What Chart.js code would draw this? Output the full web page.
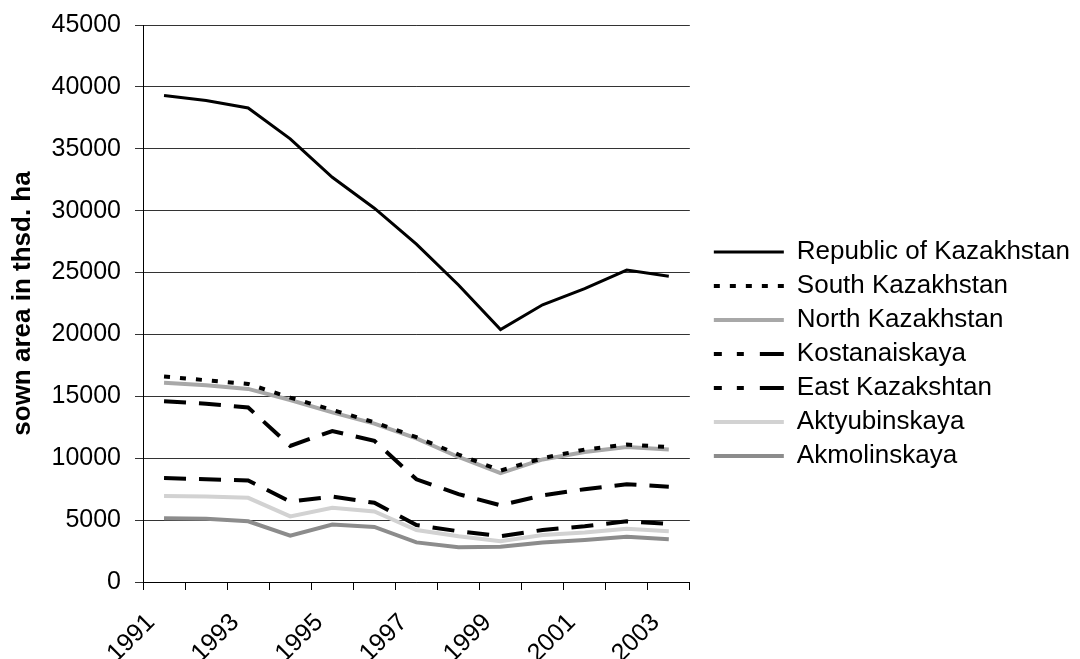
<!DOCTYPE html>
<html>
<head>
<meta charset="utf-8">
<script src="https://cdn.jsdelivr.net/npm/chart.js@4.4.1/dist/chart.umd.min.js"></script>
<style>
    html, body { margin: 0; padding: 0; background: #fff; }
</style>
</head>
<body>
<canvas id="sownChart" width="1080" height="659"></canvas>
<script>
const years = ['1991', '1992', '1993', '1994', '1995', '1996', '1997', '1998', '1999', '2000', '2001', '2002', '2003'];
const republic = [39300, 38900, 38300, 35800, 32700, 30200, 27300, 24000, 20400, 22400, 23700, 25200, 24700];
const southKaz = [16600, 16300, 16000, 14900, 13900, 12900, 11700, 10300, 9000, 10000, 10700, 11100, 10900];
const northKaz = [16100, 15900, 15600, 14700, 13700, 12800, 11600, 10100, 8800, 9900, 10500, 10900, 10700];
const kostanai = [14600, 14400, 14100, 11000, 12200, 11400, 8300, 7100, 6200, 7000, 7500, 7900, 7700];
const eastKaz = [8400, 8300, 8200, 6500, 6900, 6400, 4600, 4100, 3700, 4200, 4500, 4900, 4700];
const aktyubinsk = [6950, 6900, 6800, 5300, 6000, 5700, 4200, 3700, 3300, 3800, 4000, 4300, 4100];
const akmolinsk = [5150, 5100, 4900, 3750, 4650, 4450, 3200, 2800, 2850, 3200, 3400, 3650, 3450];
const yTicks = [0, 5000, 10000, 15000, 20000, 25000, 30000, 35000, 40000, 45000];

Chart.defaults.font.family = '"Liberation Sans", Arial, sans-serif';
Chart.defaults.color = '#000';

function series(label, data, color, width, dash, legendDash) {
    return {
        label: label,
        data: data,
        borderColor: color,
        backgroundColor: color,
        borderWidth: width,
        borderDash: dash,
        legendDash: legendDash || dash,
        pointRadius: 0,
        tension: 0,
        fill: false
    };
}

const longDash = [22, 13];
const legendLongDash = [8, 15, 7, 16, 24, 40];

new Chart(document.getElementById('sownChart').getContext('2d'), {
    type: 'line',
    data: {
        labels: years,
        datasets: [
            series('Republic of Kazakhstan', republic, '#000000', 3, []),
            series('South Kazakhstan', southKaz, '#000000', 4, [6, 10]),
            series('North Kazakhstan', northKaz, '#a8a8a8', 4, []),
            series('Kostanaiskaya', kostanai, '#000000', 4, longDash, legendLongDash),
            series('East Kazakshtan', eastKaz, '#000000', 4, longDash, legendLongDash),
            series('Aktyubinskaya', aktyubinsk, '#d2d2d2', 4, []),
            series('Akmolinskaya', akmolinsk, '#8c8c8c', 4, [])
        ]
    },
    options: {
        responsive: false,
        animation: false,
        layout: { padding: { top: 25, right: 0, bottom: 0, left: 0 } },
        plugins: {
            tooltip: { enabled: false },
            legend: {
                position: 'right',
                maxWidth: 400,
                title: { display: true, text: '', font: { size: 10, lineHeight: 2.4 }, padding: 0 },
                labels: {
                    usePointStyle: true,
                    pointStyle: 'line',
                    pointStyleWidth: 70,
                    padding: 8,
                    color: '#000',
                    font: { size: 26 },
                    generateLabels: function(chart) {
                        const items = Chart.defaults.plugins.legend.labels.generateLabels(chart);
                        items.forEach(function(item) {
                            item.lineDash = chart.data.datasets[item.datasetIndex].legendDash;
                        });
                        return items;
                    }
                }
            }
        },
        scales: {
            x: {
                offset: true,
                grid: { offset: true, drawOnChartArea: false, tickLength: 8, color: '#000' },
                border: { color: '#000', width: 1 },
                ticks: {
                    autoSkip: false,
                    minRotation: 45,
                    maxRotation: 45,
                    padding: 18,
                    labelOffset: -13,
                    font: { size: 25 },
                    callback: function(value, index) {
                        return index % 2 === 0 ? years[index] : '';
                    }
                },
                afterFit: function(scale) { scale.height = 77; }
            },
            y: {
                min: 0,
                max: 45000,
                afterBuildTicks: function(scale) {
                    scale.ticks = yTicks.map(function(v) { return { value: v }; });
                },
                grid: { color: '#333', tickLength: 8 },
                border: { color: '#000', width: 1 },
                ticks: { padding: 14, font: { size: 25 }, callback: function(v) { return String(v); } },
                title: {
                    display: true,
                    text: 'sown area in thsd. ha',
                    font: { size: 26, weight: 'bold' },
                    padding: { top: 7, bottom: 0 }
                },
                afterFit: function(scale) {
                    scale.width = 143;
                    scale.paddingTop = 0;
                    scale.paddingBottom = 0;
                }
            },
            gap: {
                position: 'right',
                display: true,
                grid: { display: false },
                border: { display: false },
                ticks: { display: false },
                afterFit: function(scale) { scale.width = 16; }
            }
        }
    }
});
</script>
</body>
</html>
